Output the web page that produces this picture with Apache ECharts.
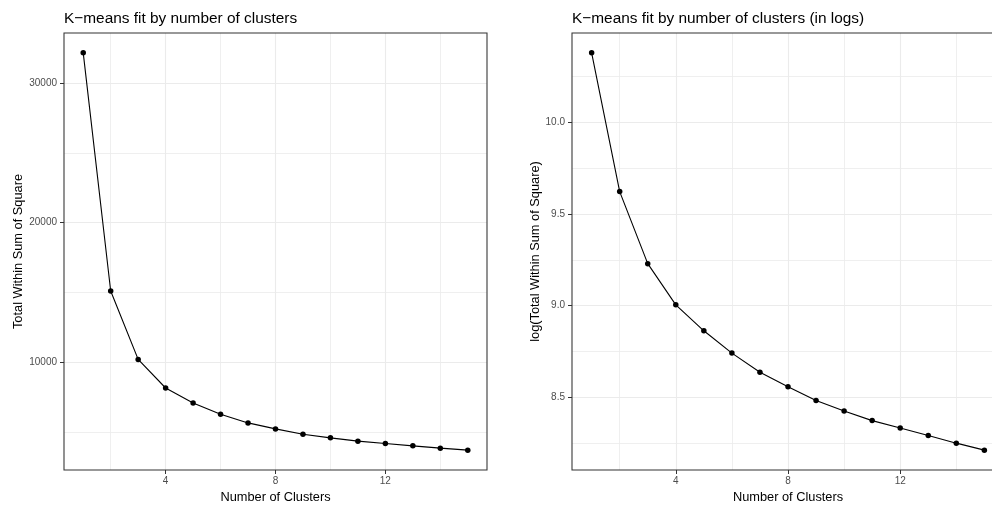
<!DOCTYPE html>
<html>
<head>
<meta charset="utf-8">
<script src="https://cdn.jsdelivr.net/npm/echarts@6/dist/echarts.min.js"></script>
<style>
  html, body { margin: 0; padding: 0; background: #ffffff; }
  #chart { width: 992px; height: 506px; }
</style>
</head>
<body>
<div id="chart"></div>
<script>
// Number of clusters tried
const clusters = [1, 2, 3, 4, 5, 6, 7, 8, 9, 10, 11, 12, 13, 14, 15];
// Total within-cluster sum of squares for each k
const totWithinSS = [32166, 15097, 10193, 8142, 7069, 6260, 5640, 5211, 4832, 4567, 4332, 4160, 3996, 3831, 3688];

// Tick and grid positions
const xBreaks = [4, 8, 12];
const xMinorBreaks = [2, 6, 10, 14];
const yBreaksLeft = [10000, 20000, 30000];
const yMinorBreaksLeft = [5000, 15000, 25000];
const yBreaksRight = [8.5, 9.0, 9.5, 10.0];
const yMinorBreaksRight = [8.25, 8.75, 9.25, 9.75, 10.25];

const titles = ['K\u2212means fit by number of clusters', 'K\u2212means fit by number of clusters (in logs)'];
const xTitle = 'Number of Clusters';
const yTitles = ['Total Within Sum of Square', 'log(Total Within Sum of Square)'];

const FONT = '"Liberation Sans", Arial, Helvetica, sans-serif';
const GRID_COL = '#ebebeb';

const logWithinSS = totWithinSS.map(v => Math.log(v));

// ggplot-like 5% expansion of the continuous scales
function expand(vals) {
  const lo = Math.min(...vals), hi = Math.max(...vals), d = (hi - lo) * 0.05;
  return [lo - d, hi + d];
}
const xr = expand(clusters);
const yrL = expand(totWithinSS);
const yrR = expand(logWithinSS);

// Panel grid lines (major and minor) drawn beneath the data
function gridLines(idx, yMajor, yMinor) {
  const data = [];
  xMinorBreaks.forEach(v => data.push({ xAxis: v, lineStyle: { width: 0.8 } }));
  yMinor.forEach(v => data.push({ yAxis: v, lineStyle: { width: 0.8 } }));
  xBreaks.forEach(v => data.push({ xAxis: v, lineStyle: { width: 1.1 } }));
  yMajor.forEach(v => data.push({ yAxis: v, lineStyle: { width: 1.1 } }));
  return {
    type: 'line', xAxisIndex: idx, yAxisIndex: idx, z: 1,
    data: [], silent: true, animation: false,
    markLine: {
      z: 1, zlevel: 0,
      silent: true, animation: false, symbol: ['none', 'none'],
      label: { show: false },
      lineStyle: { color: GRID_COL, type: 'solid' },
      emphasis: { disabled: true },
      data: data
    }
  };
}

function pointsSeries(idx, values) {
  return {
    type: 'line', xAxisIndex: idx, yAxisIndex: idx, z: 6,
    data: clusters.map((k, i) => [k, values[i]]),
    symbol: 'circle', symbolSize: 5.5, showSymbol: true,
    lineStyle: { color: '#000', width: 1.1 },
    itemStyle: { color: '#000' },
    animation: false, silent: true
  };
}

function xAxisDef(idx) {
  return {
    type: 'value', gridIndex: idx, min: xr[0], max: xr[1],
    name: xTitle, nameLocation: 'middle', nameGap: 19,
    nameTextStyle: { fontFamily: FONT, fontSize: 12.8, color: '#000' },
    axisLine: { show: false },
    axisTick: { show: true, length: 4, lineStyle: { color: '#333', width: 1 }, customValues: xBreaks },
    axisLabel: { fontFamily: FONT, fontSize: 10, color: '#4d4d4d', margin: 6, customValues: xBreaks, formatter: v => String(v) },
    splitLine: { show: false }
  };
}

function yAxisDef(idx, range, breaks, fmt, gap) {
  return {
    type: 'value', gridIndex: idx, min: range[0], max: range[1],
    name: yTitles[idx], nameLocation: 'middle', nameGap: gap,
    nameTextStyle: { fontFamily: FONT, fontSize: 12.8, color: '#000' },
    axisLine: { show: false },
    axisTick: { show: true, length: 4, lineStyle: { color: '#333', width: 1 }, customValues: breaks },
    axisLabel: { fontFamily: FONT, fontSize: 10, color: '#4d4d4d', margin: 7, customValues: breaks, formatter: fmt },
    splitLine: { show: false }
  };
}

const chart = echarts.init(document.getElementById('chart'), null, { renderer: 'canvas' });
chart.setOption({
  backgroundColor: '#ffffff',
  animation: false,
  title: [
    { text: titles[0], left: 64, top: 11, padding: 0, textStyle: { fontFamily: FONT, fontSize: 15.4, fontWeight: 'normal', color: '#000' } },
    { text: titles[1], left: 572, top: 11, padding: 0, textStyle: { fontFamily: FONT, fontSize: 15.4, fontWeight: 'normal', color: '#000' } }
  ],
  grid: [
    { left: 64, top: 33, width: 423, height: 437, outerBoundsMode: 'none', containLabel: false, show: true, z: 10, borderColor: '#333', borderWidth: 1.07, backgroundColor: 'transparent' },
    { left: 572, top: 33, width: 432, height: 437, outerBoundsMode: 'none', containLabel: false, show: true, z: 10, borderColor: '#333', borderWidth: 1.07, backgroundColor: 'transparent' }
  ],
  xAxis: [xAxisDef(0), xAxisDef(1)],
  yAxis: [
    yAxisDef(0, yrL, yBreaksLeft, v => String(v), 37),
    yAxisDef(1, yrR, yBreaksRight, v => v.toFixed(1), 30)
  ],
  series: [
    gridLines(0, yBreaksLeft, yMinorBreaksLeft),
    gridLines(1, yBreaksRight, yMinorBreaksRight),
    pointsSeries(0, totWithinSS),
    pointsSeries(1, logWithinSS)
  ]
});
</script>
</body>
</html>
